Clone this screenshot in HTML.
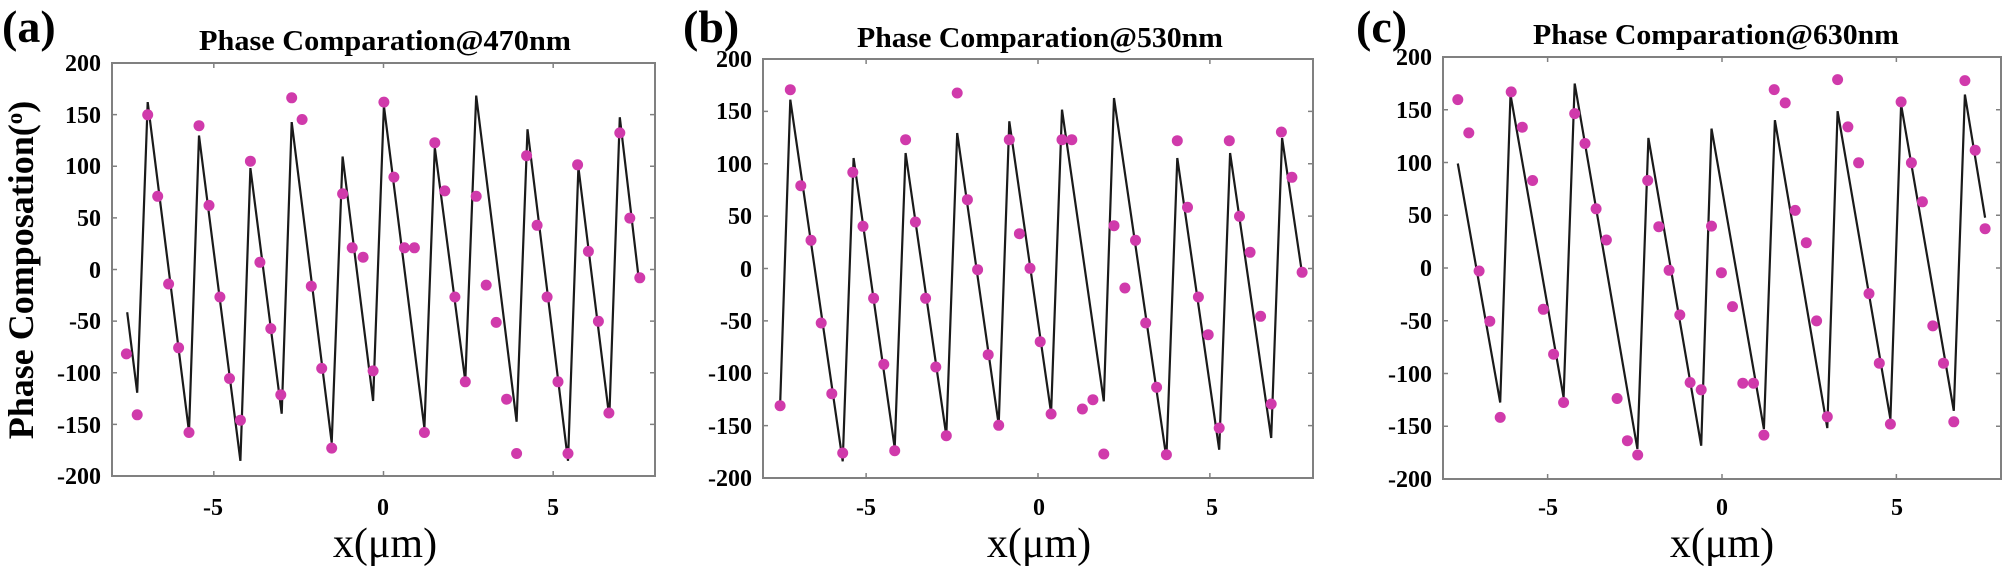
<!DOCTYPE html>
<html><head><meta charset="utf-8">
<style>
html,body{margin:0;padding:0;background:#fff;}
svg{display:block;}
text{font-family:"Liberation Serif",serif;}
.tk{font-size:24px;font-weight:bold;}
.ttl{font-size:29px;font-weight:bold;}
.pl{font-size:46px;font-weight:bold;}
.xl{font-size:42px;}
</style></head>
<body>
<svg id="s" width="2007" height="569" viewBox="0 0 2007 569" xmlns="http://www.w3.org/2000/svg">
<rect width="2007" height="569" fill="#fff"/>
<text class="pl" x="2" y="42">(a)</text>
<text class="pl" x="683" y="42">(b)</text>
<text class="pl" x="1356" y="42">(c)</text>
<text class="ttl" x="199" y="50" textLength="372" lengthAdjust="spacingAndGlyphs">Phase Comparation@470nm</text>
<text class="ttl" x="857" y="47" textLength="366" lengthAdjust="spacingAndGlyphs">Phase Comparation@530nm</text>
<text class="ttl" x="1533" y="44" textLength="366" lengthAdjust="spacingAndGlyphs">Phase Comparation@630nm</text>
<text x="0" y="0" transform="translate(33,270) rotate(-90)" text-anchor="middle" style="font-size:36px;font-weight:bold">Phase Composation(<tspan dy="-11" font-size="23">o</tspan><tspan dy="11">)</tspan></text>
<g class="tk" text-anchor="end">
<text x="101" y="71">200</text><text x="101" y="123">150</text><text x="101" y="174">100</text><text x="101" y="226">50</text><text x="101" y="278">0</text><text x="101" y="329">-50</text><text x="101" y="381">-100</text><text x="101" y="433">-150</text><text x="101" y="484">-200</text>
</g>
<g class="tk" text-anchor="end">
<text x="752" y="67">200</text><text x="752" y="119">150</text><text x="752" y="172">100</text><text x="752" y="224">50</text><text x="752" y="277">0</text><text x="752" y="329">-50</text><text x="752" y="381">-100</text><text x="752" y="434">-150</text><text x="752" y="486">-200</text>
</g>
<g class="tk" text-anchor="end">
<text x="1432" y="65">200</text><text x="1432" y="118">150</text><text x="1432" y="171">100</text><text x="1432" y="223">50</text><text x="1432" y="276">0</text><text x="1432" y="329">-50</text><text x="1432" y="382">-100</text><text x="1432" y="434">-150</text><text x="1432" y="487">-200</text>
</g>
<g class="tk" text-anchor="middle">
<text x="213" y="515">-5</text><text x="383" y="515">0</text><text x="553" y="515">5</text>
<text x="866" y="515">-5</text><text x="1039" y="515">0</text><text x="1212" y="515">5</text>
<text x="1548" y="515">-5</text><text x="1722" y="515">0</text><text x="1897" y="515">5</text>
</g>
<g class="xl" text-anchor="middle">
<text x="385" y="557">x(μm)</text><text x="1039" y="557">x(μm)</text><text x="1722" y="557">x(μm)</text>
</g>
<g id="plots"></g>
</svg>
<script>
var NS="http://www.w3.org/2000/svg";
var g=document.getElementById("plots");
function el(n,a){var e=document.createElementNS(NS,n);for(var k in a)e.setAttribute(k,a[k]);g.appendChild(e);return e;}
var panels=[
{z:[260,172,1508,1312],r:[112,63,655,476],
line:[[295,860],[318,1082],[342,280],[437,1190],[460,372],[555,1270],[578,462],[650,1140],[673,335],[765,1220],[790,430],[860,1105],[885,290],[978,1180],[1002,405],[1072,1050],[1097,262],[1190,1162],[1215,355],[1308,1270],[1332,460],[1403,1150],[1427,322],[1470,762]],
dots:[[293,975],[318,1143],[342,315],[365,540],[390,782],[413,958],[437,1192],[460,345],[483,565],[508,818],[530,1043],[555,1158],[578,443],[600,722],[625,905],[648,1088],[673,268],[697,328],[718,788],[742,1015],[765,1235],[790,533],[812,682],[837,708],[860,1022],[885,280],[908,487],[932,682],[955,682],[978,1192],[1002,392],[1025,525],[1048,818],[1072,1052],[1097,540],[1120,785],[1143,888],[1167,1100],[1190,1250],[1213,428],[1237,620],[1260,818],[1285,1052],[1308,1250],[1330,453],[1355,692],[1378,885],[1402,1138],[1427,365],[1450,600],[1473,765]]},
{z:[38,28,1550,1285],r:[763,59,1313,478],
line:[[85,1068],[113,150],[257,1235],[287,325],[400,1195],[430,310],[542,1158],[572,250],[686,1125],[715,215],[830,1090],[860,180],[975,1055],[1003,145],[1147,1225],[1177,325],[1292,1200],[1322,310],[1435,1165],[1465,265],[1520,672]],
dots:[[85,1068],[113,120],[142,408],[170,572],[198,820],[227,1032],[257,1210],[285,368],[313,530],[342,746],[370,944],[400,1203],[430,270],[457,517],[485,746],[513,952],[542,1158],[572,130],[600,450],[628,660],[657,915],[686,1127],[715,270],[743,552],[772,656],[800,876],[830,1093],[860,270],[887,270],[916,1078],[945,1050],[975,1213],[1003,528],[1033,715],[1062,572],[1090,820],[1120,1013],[1147,1215],[1177,273],[1205,473],[1235,742],[1262,855],[1292,1135],[1320,273],[1348,500],[1377,608],[1406,800],[1435,1063],[1463,247],[1492,383],[1520,668]]},
{z:[35,22,1548,1290],r:[1443,57,2001,479],
line:[[75,342],[190,1060],[218,135],[362,1045],[392,102],[562,1200],[592,265],[735,1190],[763,237],[905,1140],[935,212],[1077,1137],[1105,185],[1248,1110],[1277,165],[1420,1085],[1450,135],[1505,505]],
dots:[[75,150],[105,250],[133,665],[162,816],[190,1105],[220,127],[250,233],[278,393],[307,780],[335,915],[362,1060],[392,192],[420,282],[450,478],[478,572],[507,1048],[535,1175],[563,1218],[590,393],[620,532],[648,663],[677,797],[705,1000],[735,1022],[763,530],[790,670],[820,772],[848,1002],[877,1002],[905,1158],[933,120],[963,160],[990,483],[1020,580],[1048,815],[1077,1103],[1105,90],[1133,232],[1162,340],[1190,733],[1218,942],[1248,1125],[1277,157],[1305,340],[1335,457],[1363,830],[1392,942],[1420,1118],[1450,93],[1478,302],[1505,538]]}
];
panels.forEach(function(p){
 var z=p.z,r=p.r;
 function X(x){return r[0]+(x-z[0])*(r[2]-r[0])/(z[2]-z[0]);}
 function Y(y){return r[1]+(y-z[1])*(r[3]-r[1])/(z[3]-z[1]);}
 el("rect",{x:r[0],y:r[1],width:r[2]-r[0],height:r[3]-r[1],fill:"none",stroke:"#808080","stroke-width":2});
 var w=r[2]-r[0],h=r[3]-r[1];
 for(var i=1;i<8;i++){var yy=r[1]+h*i/8;
  el("line",{x1:r[0],y1:yy,x2:r[0]+5,y2:yy,stroke:"#808080","stroke-width":1.5});
  el("line",{x1:r[2],y1:yy,x2:r[2]-5,y2:yy,stroke:"#808080","stroke-width":1.5});}
 [-5,0,5].forEach(function(v){var xx=r[0]+w*(v+8)/16;
  el("line",{x1:xx,y1:r[3],x2:xx,y2:r[3]-5,stroke:"#808080","stroke-width":1.5});
  el("line",{x1:xx,y1:r[1],x2:xx,y2:r[1]+5,stroke:"#808080","stroke-width":1.5});});
 el("polyline",{points:p.line.map(function(q){return X(q[0]).toFixed(1)+","+Y(q[1]).toFixed(1);}).join(" "),fill:"none",stroke:"#1a1a1a","stroke-width":2.2,"stroke-linejoin":"miter"});
 p.dots.forEach(function(q){el("circle",{cx:X(q[0]).toFixed(1),cy:Y(q[1]).toFixed(1),r:5.5,fill:"#d03aab"});});
});
</script>
</body></html>
